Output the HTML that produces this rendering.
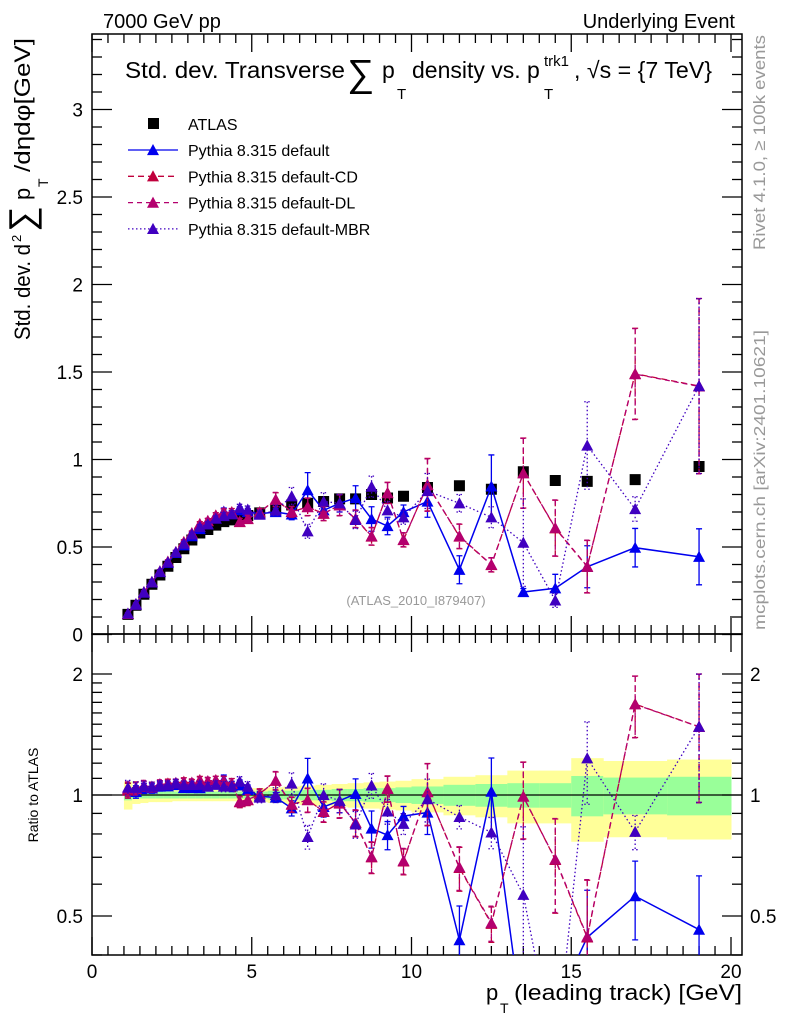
<!DOCTYPE html>
<html><head><meta charset="utf-8"><style>
html,body{margin:0;padding:0;background:#fff;overflow:hidden;width:786px;height:1024px}
svg{display:block;font-family:"Liberation Sans",Arial,sans-serif}
</style></head><body>
<svg id="chart" width="786" height="1024" viewBox="0 0 786 1024" xmlns="http://www.w3.org/2000/svg">
<defs>
<clipPath id="clipMain"><rect x="92" y="34" width="650" height="600"/></clipPath>
<clipPath id="clipRatio"><rect x="92" y="634" width="650" height="321"/></clipPath>
</defs>
<g id="bands"></g>
<g id="axes"></g>
<g id="series"></g>
<text x="103" y="28" font-size="20">7000 GeV pp</text>
<text x="735" y="28" font-size="20" text-anchor="end">Underlying Event</text>
<g font-size="23">
<text x="125" y="78" textLength="220" lengthAdjust="spacingAndGlyphs">Std. dev. Transverse</text>
<text x="347" y="86" font-size="38">∑</text>
<text x="382" y="78">p</text>
<text x="397" y="99" font-size="15">T</text>
<text x="412" y="78">density vs. p</text>
<text x="544" y="99" font-size="15">T</text>
<text x="544" y="66" font-size="15">trk1</text>
<text x="574" y="78" textLength="138" lengthAdjust="spacingAndGlyphs">, √s = {7 TeV}</text>
</g>
<g transform="translate(30,340) rotate(-90)" font-size="22">
<text x="0" y="0" textLength="96" lengthAdjust="spacingAndGlyphs">Std. dev. d</text>
<text x="98" y="-9" font-size="13">2</text>
<text x="108" y="4" font-size="36">∑</text>
<text x="140" y="0">p</text>
<text x="153" y="18" font-size="14">T</text>
<text x="168" y="0" textLength="134" lengthAdjust="spacingAndGlyphs">/dηdφ[GeV]</text>
</g>
<text transform="translate(38,795) rotate(-90)" text-anchor="middle" font-size="14">Ratio to ATLAS</text>
<g font-size="22">
<text x="486" y="1000">p</text>
<text x="500" y="1013" font-size="14">T</text>
<text x="742" y="1000" text-anchor="end" textLength="228" lengthAdjust="spacingAndGlyphs">(leading track) [GeV]</text>
</g>
<text transform="translate(765,35) rotate(-90)" text-anchor="end" font-size="17" fill="#999" textLength="215" lengthAdjust="spacingAndGlyphs">Rivet 4.1.0, ≥ 100k events</text>
<text transform="translate(765,630) rotate(-90)" text-anchor="start" font-size="16" fill="#999" textLength="300" lengthAdjust="spacingAndGlyphs">mcplots.cern.ch [arXiv:2401.10621]</text>
<text x="416" y="605" text-anchor="middle" font-size="13" fill="#999">(ATLAS_2010_I879407)</text>
<g id="legend"></g>
</svg>
<script>
const xVals=[1.125,1.375,1.625,1.875,2.125,2.375,2.625,2.875,3.125,3.375,3.625,3.875,4.125,4.375,4.625,4.875,5.25,5.75,6.25,6.75,7.25,7.75,8.25,8.75,9.25,9.75,10.5,11.5,12.5,13.5,14.5,15.5,17,19];
const binEdges=[1,1.25,1.5,1.75,2,2.25,2.5,2.75,3,3.25,3.5,3.75,4,4.25,4.5,4.75,5,5.5,6,6.5,7,7.5,8,8.5,9,9.5,10,11,12,13,14,15,16,18,20];
const atlasVals=[0.115,0.167,0.23,0.287,0.34,0.39,0.44,0.49,0.54,0.58,0.60,0.625,0.645,0.655,0.67,0.68,0.695,0.71,0.74,0.75,0.76,0.775,0.775,0.80,0.78,0.79,0.84,0.85,0.83,0.93,0.88,0.875,0.885,0.96];
const atlasTotRel=[0.08,0.05,0.045,0.04,0.04,0.04,0.035,0.035,0.035,0.035,0.035,0.035,0.035,0.035,0.035,0.04,0.04,0.045,0.05,0.055,0.06,0.065,0.07,0.075,0.08,0.085,0.095,0.11,0.12,0.15,0.15,0.235,0.215,0.225];
const atlasStatRel=[0.03,0.02,0.02,0.02,0.02,0.02,0.02,0.02,0.02,0.02,0.02,0.02,0.02,0.02,0.02,0.02,0.02,0.025,0.025,0.03,0.03,0.035,0.035,0.04,0.04,0.045,0.05,0.06,0.065,0.07,0.07,0.115,0.105,0.11];
const defVals=[0.118,0.170,0.239,0.298,0.357,0.41,0.466,0.51,0.562,0.603,0.63,0.663,0.703,0.688,0.71,0.70,0.69,0.70,0.686,0.825,0.71,0.75,0.78,0.66,0.62,0.70,0.76,0.37,0.846,0.243,0.264,0.387,0.496,0.444];
const defErr=[0.005,0.006,0.007,0.008,0.009,0.01,0.01,0.012,0.012,0.013,0.014,0.015,0.02,0.02,0.02,0.02,0.02,0.02,0.03,0.1,0.04,0.05,0.07,0.07,0.05,0.04,0.09,0.08,0.18,0.02,0.08,0.12,0.11,0.16];
const cdVals=[0.118,0.174,0.242,0.301,0.36,0.417,0.471,0.529,0.578,0.632,0.648,0.681,0.697,0.70,0.643,0.66,0.70,0.77,0.70,0.73,0.69,0.74,0.66,0.56,0.81,0.54,0.856,0.56,0.397,0.923,0.607,0.387,1.49,1.42];
const cdErr=[0.005,0.006,0.007,0.008,0.009,0.01,0.01,0.012,0.012,0.013,0.014,0.015,0.02,0.02,0.02,0.02,0.02,0.04,0.03,0.05,0.04,0.06,0.05,0.05,0.06,0.04,0.15,0.07,0.04,0.2,0.16,0.15,0.26,0.5];
const dlVals=[0.119,0.173,0.243,0.300,0.362,0.415,0.472,0.527,0.580,0.630,0.650,0.680,0.699,0.698,0.645,0.662,0.698,0.772,0.702,0.728,0.692,0.738,0.662,0.562,0.808,0.542,0.854,0.562,0.399,0.921,0.609,0.389,1.488,1.418];
const dlErr=cdErr.slice();
const mbrVals=[0.12,0.174,0.242,0.301,0.36,0.413,0.471,0.519,0.572,0.615,0.63,0.663,0.677,0.688,0.724,0.714,0.685,0.71,0.79,0.59,0.76,0.75,0.655,0.845,0.71,0.67,0.82,0.75,0.67,0.525,0.195,1.08,0.717,1.42];
const mbrErr=[0.005,0.006,0.007,0.008,0.009,0.01,0.01,0.012,0.012,0.013,0.014,0.015,0.02,0.02,0.02,0.02,0.02,0.03,0.05,0.04,0.05,0.05,0.05,0.06,0.05,0.04,0.1,0.05,0.06,0.25,0.04,0.25,0.07,0.5];
const mainTicks=["0","0.5","1","1.5","2","2.5","3"];
const ratioTicks=["0.5","1","2"];
const xTicks=["0","5","10","15","20"];

const NS="http://www.w3.org/2000/svg";
const X0=92,XS=31.95,Y0=634.5,YS=175,RY1=795,RS=402;
function sx(v){return X0+v*XS;}
function sy(v){return Y0-v*YS;}
function ry(r){return RY1-RS*Math.log10(r);}
function mk(tag,attrs,parent){const e=document.createElementNS(NS,tag);for(const k in attrs)e.setAttribute(k,attrs[k]);parent.appendChild(e);return e;}

const bands=document.getElementById('bands');
bands.setAttribute('clip-path','url(#clipRatio)');
for(let i=0;i<xVals.length;i++){
  const x1=sx(binEdges[i]),x2=sx(binEdges[i+1]);
  const y=mk('rect',{x:x1,y:ry(1+atlasTotRel[i]),width:x2-x1+0.5,height:ry(1-atlasTotRel[i])-ry(1+atlasTotRel[i]),fill:'#ffff99'},bands);
  
  
  const g=mk('rect',{x:x1,y:ry(1+atlasStatRel[i]),width:x2-x1+0.5,height:ry(1-atlasStatRel[i])-ry(1+atlasStatRel[i]),fill:'#99ff99'},bands);
  
  
}

const axes=document.getElementById('axes');
function line(x1,y1,x2,y2,p,w){return mk('line',{x1:x1,y1:y1,x2:x2,y2:y2,stroke:'#000','stroke-width':w||1.3},p);}
const ref=line(92,ry(1),742,ry(1),axes,1.2);


const f1=mk('rect',{x:92,y:34,width:650,height:600,fill:'none',stroke:'#000','stroke-width':1.5},axes);


const f2=mk('rect',{x:92,y:634,width:650,height:321,fill:'none',stroke:'#000','stroke-width':1.5},axes);


for(let v=0;v<=20.3;v+=0.5){
  const maj=Math.abs(v%5)<1e-6;const L=maj?18:9;const x=sx(v);
  line(x,955,x,955-L,axes);line(x,634,x,634-L,axes);line(x,634,x,634+L,axes);line(x,34,x,34+L,axes);
}
xTicks.forEach(t=>{const e=mk('text',{x:sx(+t),y:978,'font-size':19,'text-anchor':'middle'},axes);e.textContent=t;
 
 });
for(let k=0;k<=34;k++){const v=k*0.1;const y=sy(v);if(y<34)break;const maj=k%5==0;const L=maj?20:10;
  line(92,y,92+L,y,axes);line(742,y,742-L,y,axes);}
mainTicks.forEach(t=>{const e=mk('text',{x:83,y:sy(+t)+7,'font-size':19,'text-anchor':'end'},axes);e.textContent=t;
 
 });
const rminor=[0.4,0.5,0.6,0.7,0.8,0.9,1,1.1,1.2,1.3,1.4,1.5,1.6,1.7,1.8,1.9,2];
rminor.forEach(r=>{const y=ry(r);const maj=(r===0.5||r===1||r===2);const L=maj?20:10;line(92,y,92+L,y,axes);line(742,y,742-L,y,axes);});
ratioTicks.forEach(t=>{const e=mk('text',{x:83,y:ry(+t)+7,'font-size':19,'text-anchor':'end'},axes);e.textContent=t;
 
 
 const e2=mk('text',{x:750,y:ry(+t)+7,'font-size':19,'text-anchor':'start'},axes);e2.textContent=t;
 
 });

const series=document.getElementById('series');
function tri(g,x,y,c,s){const p=mk('path',{d:`M${x-s} ${y+s*0.85}L${x+s} ${y+s*0.85}L${x} ${y-s}Z`,fill:c},g);return p;}
const models=[
 {name:'default',vals:defVals,err:defErr,color:'#0000ee',dash:'',w:1.5},
 {name:'default-cd',vals:cdVals,err:cdErr,color:'#c0003c',dash:'6,4',w:1.3},
 {name:'default-dl',vals:dlVals,err:dlErr,color:'#b4006e',dash:'5,4',w:1.3},
 {name:'default-mbr',vals:mbrVals,err:mbrErr,color:'#4000c0',dash:'1.5,2.5',w:1.3}
];
function drawSeries(m,panel){
  const g=mk('g',{'clip-path':panel==='main'?'url(#clipMain)':'url(#clipRatio)'},series);
  
  
  const yf=panel==='main'?(i=>sy(m.vals[i])):(i=>ry(m.vals[i]/atlasVals[i]));
  const yfe=panel==='main'?((i,d)=>sy(m.vals[i]+d)):((i,d)=>ry((m.vals[i]+d)/atlasVals[i]));
  let d='';
  xVals.forEach((x,i)=>{d+=(i?'L':'M')+sx(x).toFixed(1)+' '+yf(i).toFixed(1);});
  const pl=mk('path',{d:d,fill:'none',stroke:m.color,'stroke-width':m.w,'stroke-dasharray':m.dash},g);
  
  
  xVals.forEach((x,i)=>{
    const X=sx(x),yt=yfe(i,m.err[i]),yb=yfe(i,-Math.min(m.err[i],m.vals[i]*0.95));
    const eb=mk('path',{d:`M${X} ${yt}L${X} ${yb}M${X-3} ${yt}L${X+3} ${yt}M${X-3} ${yb}L${X+3} ${yb}`,stroke:m.color,'stroke-width':1.3,fill:'none','stroke-dasharray':m.dash},g);
    
    
    const t=tri(g,X,yf(i),m.color,6);
    
    
  });
}
const ga=mk('g',{'clip-path':'url(#clipMain)'},series);


xVals.forEach((x,i)=>{const r=mk('rect',{x:sx(x)-5.5,y:sy(atlasVals[i])-5.5,width:11,height:11,fill:'#000'},ga);
 
 });
models.forEach(m=>{drawSeries(m,'main');drawSeries(m,'ratio');});

const lg=document.getElementById('legend');
const sq=mk('rect',{x:148,y:118,width:11,height:11,fill:'#000'},lg);


const la=mk('text',{x:188,y:130,'font-size':16},lg);la.textContent='ATLAS';


const labs=['Pythia 8.315 default','Pythia 8.315 default-CD','Pythia 8.315 default-DL','Pythia 8.315 default-MBR'];
models.forEach((m,k)=>{const y=150+k*26.3;
 const l=mk('line',{x1:128,y1:y,x2:178,y2:y,stroke:m.color,'stroke-width':1.3,'stroke-dasharray':m.dash},lg);
 
 
 tri(lg,153,y,m.color,6);
 const t=mk('text',{x:188,y:y+6,'font-size':16},lg);t.textContent=labs[k];
 
 });
</script>
</body></html>
